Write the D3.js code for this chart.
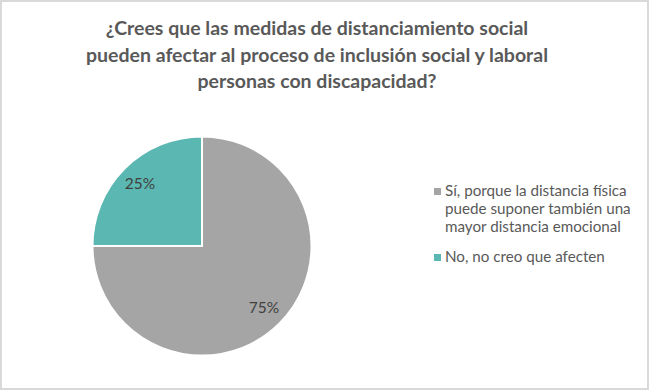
<!DOCTYPE html>
<html><head><meta charset="utf-8">
<script src="https://cdn.jsdelivr.net/npm/d3@7"></script>
<style>body{margin:0;background:#fff}svg{display:block}</style>
</head><body><svg id="c" width="650" height="391"></svg>
<script>
const categories = ["Sí, porque la distancia física puede suponer también una mayor distancia emocional", "No, no creo que afecten"];
const legendLines = [["Sí, porque la distancia física", "puede suponer también una", "mayor distancia emocional"], ["No, no creo que afecten"]];
const values = [75, 25];
const colors = ["#A5A5A5", "#5BB7B1"];
const titleLines = ["¿Crees que las medidas de distanciamiento social", "pueden afectar al proceso de inclusión social y laboral", "personas con discapacidad?"];

const svg = d3.select("#c");
const font = "Lato, 'Open Sans', sans-serif";
svg.append("rect").attr("x",1).attr("y",1).attr("width",647).attr("height",388)
  .attr("fill","#fff").attr("stroke","#D9D9D9").attr("stroke-width",2);

svg.append("g").selectAll("text").data(titleLines).join("text")
  .attr("x",317).attr("y",(d,i)=>35+i*26.5).attr("text-anchor","middle")
  .attr("font-family",font).attr("font-weight","bold").attr("font-size",19.5)
  .attr("fill","#595959").text(d=>d);

const cx=202, cy=246, r=109.5;
const pie = d3.pie().sort(null).value(d=>d);
const arcs = pie(values);
const arc = d3.arc().innerRadius(0).outerRadius(r);
const g = svg.append("g").attr("transform",`translate(${cx},${cy})`);
g.selectAll("path").data(arcs).join("path").attr("d",arc)
  .attr("fill",(d,i)=>colors[i]).attr("stroke","#fff").attr("stroke-width",2);
const labelArc = d3.arc().innerRadius(r*0.8).outerRadius(r*0.8);
g.selectAll("text").data(arcs).join("text")
  .attr("transform",d=>`translate(${labelArc.centroid(d)})`)
  .attr("text-anchor","middle").attr("dy","0.35em")
  .attr("font-family",font).attr("font-size",15.5).attr("fill","#404040")
  .text(d=>d.data+"%");

const leg = svg.append("g");
const starts=[196,262];
legendLines.forEach((lines,i)=>{
  leg.append("rect").attr("x",434).attr("y",starts[i]-8).attr("width",7).attr("height",7).attr("fill",colors[i]);
  lines.forEach((t,j)=>{
    leg.append("text").attr("x",445).attr("y",starts[i]+j*18)
      .attr("font-family",font).attr("font-size",15.2).attr("fill","#595959").text(t);
  });
});
</script></body></html>
